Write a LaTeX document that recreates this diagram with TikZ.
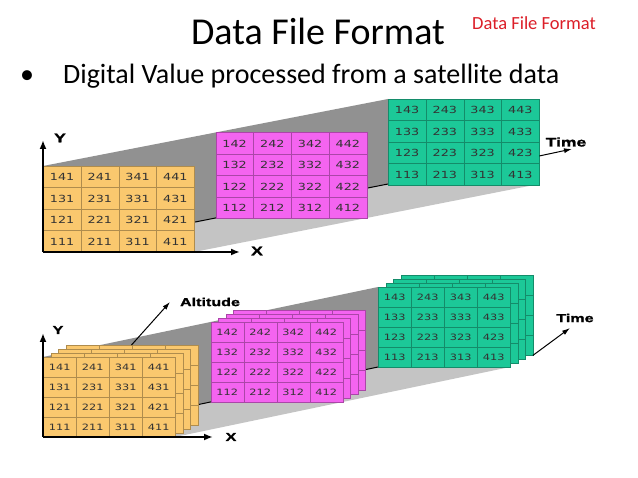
\documentclass[tikz,border=0pt]{standalone}
\usepackage{fontspec}
\setmainfont{Carlito}
\newfontfamily\gridfont{DejaVu Sans}[FakeStretch=1.3]
\newfontfamily\axisfont{Liberation Sans}[FakeStretch=1.4, BoldFeatures={FakeBold=1.5}]
\usetikzlibrary{arrows.meta,positioning,calc}
\definecolor{yellowcol}{RGB}{250,200,110}
\definecolor{pinkcol}{RGB}{244,100,240}
\definecolor{greencol}{RGB}{28,200,152}
\definecolor{wallcol}{RGB}{145,145,145}
\definecolor{floorcol}{RGB}{196,196,196}
\definecolor{redcol}{RGB}{220,30,40}

\begin{document}
\begin{tikzpicture}[x=1pt, y=-1pt,
    cell/.style={rectangle, draw, line width=0.4pt, anchor=north west, inner sep=0pt, text=black!80},
    bigcell/.style={cell, minimum width=37.75pt, minimum height=21.5pt, font=\gridfont\fontsize{9.8}{10}\selectfont},
    smallcell/.style={cell, minimum width=33pt, minimum height=20pt, font=\gridfont\fontsize{8.7}{9}\selectfont},
    axis/.style={line width=1.8pt, -{Latex[length=9pt,width=7pt]}},
    arr/.style={line width=1pt, -{Latex[length=8pt,width=5pt]}},
    biglab/.style={font=\axisfont\bfseries\fontsize{12.5}{12}\selectfont, inner sep=0pt},
    smalllab/.style={font=\axisfont\bfseries\fontsize{11.5}{11}\selectfont, inner sep=0pt},
]
\useasboundingbox[fill=white] (0,0) rectangle (638,478);

% headings
\node[font=\fontsize{38}{40}\selectfont, anchor=base, inner sep=0pt] (title) at (318,45) {Data File Format};
\node[font=\fontsize{18.5}{20}\selectfont, text=redcol, anchor=base west, inner sep=0pt] (tag) at (472,30) {Data File Format};
\node[font=\fontsize{28}{30}\selectfont, anchor=base west, inner sep=0pt] (bullet) at (20,84) {\makebox[43pt][l]{•}Digital Value processed from a satellite data};

% upper panel: wall and floor
\fill[wallcol] (43,166) -- (388,99) -- (388,184) -- (43,252) -- cycle;
\fill[floorcol] (43,252) -- (194,252) -- (539,184) -- (388,184) -- cycle;
\draw[line width=1pt] (43,252) -- (388,184);

\foreach \k/\col/\dx/\dy in {3/greencol/345/-67, 2/pinkcol/172.5/-33.5, 1/yellowcol/0/0} {
  \foreach \i in {1,...,4} \foreach \j in {1,...,4}
    \node[bigcell, fill=\col, draw=\col!70!black] (t\i\j\k) at ({43+\dx+(\i-1)*37.75},{166+\dy+(4-\j)*21.5}) {\i\j\k};
}

\coordinate (o1) at (43,252);
\coordinate (yend1) at (43,140);
\coordinate (xend1) at (240,252);
\coordinate (tend1) at (572,149);
\draw[axis] (o1) -- (yend1);
\draw[axis] (o1) -- (xend1);
\draw[arr] ([yshift=-3pt]t423.east) -- (tend1);
\node[biglab] (ylab1) at (60,138) {Y};
\node[biglab] (xlab1) at (257,251) {X};
\node[biglab] (tlab1) at (566,142) {Time};

% lower panel: wall and floor
\fill[wallcol] (43,357) -- (378,287) -- (378,367) -- (43,437) -- cycle;
\fill[floorcol] (43,437) -- (175,437) -- (510,367) -- (378,367) -- cycle;
\draw[line width=1pt] (43,437) -- (378,367);

\foreach \k/\col/\dx/\dy in {3/greencol/335/-70, 2/pinkcol/167.5/-35, 1/yellowcol/0/0} {
  \foreach \s in {3,2,1} {
    \foreach \i in {1,...,4} \foreach \j in {1,...,4}
      \node[smallcell, fill=\col, draw=\col!70!black] (s\s\i\j\k) at ({43+\dx+7.5*\s+(\i-1)*33},{357+\dy-4*\s+(4-\j)*20}) {};
  }
  \foreach \i in {1,...,4} \foreach \j in {1,...,4}
    \node[smallcell, fill=\col, draw=\col!70!black] (b\i\j\k) at ({43+\dx+(\i-1)*33},{357+\dy+(4-\j)*20}) {\i\j\k};
}

\coordinate (o2) at (43,437);
\coordinate (yend2) at (43,333);
\coordinate (xend2) at (213,437);
\coordinate (aend2) at (170,302);
\coordinate (tend2) at (570,328);
\draw[axis] (o2) -- (yend2);
\draw[axis] (o2) -- (xend2);
\draw[arr] (s3341.north west) -- (aend2);
\draw[arr] (s3413.south east) -- (tend2);
\node[smalllab] (ylab2) at (58,330) {Y};
\node[smalllab] (xlab2) at (231,437) {X};
\node[smalllab] (alab2) at (210,302) {Altitude};
\node[smalllab] (tlab2) at (575,318) {Time};
\end{tikzpicture}
\end{document}
